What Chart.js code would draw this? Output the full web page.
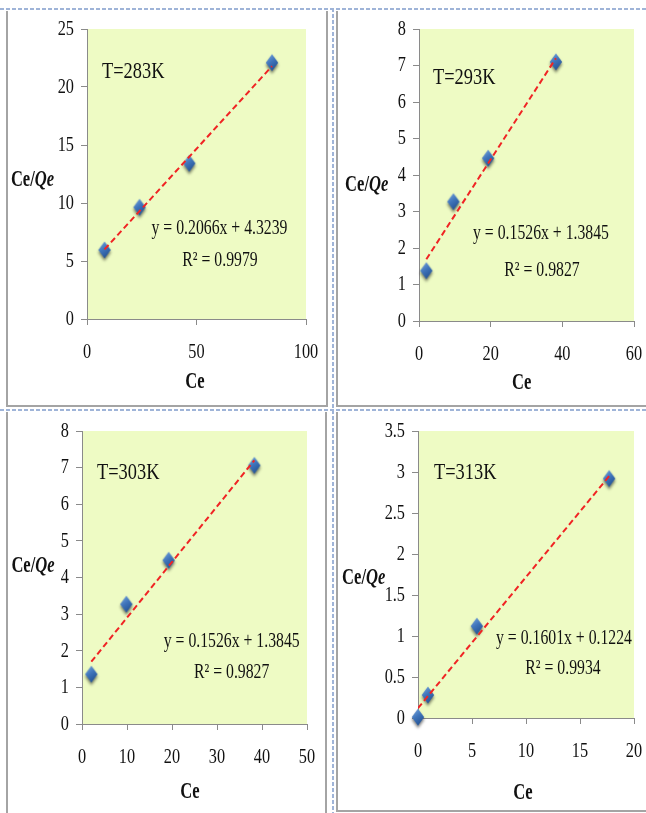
<!DOCTYPE html>
<html>
<head>
<meta charset="utf-8">
<script src="https://cdn.jsdelivr.net/npm/chart.js@4.4.1/dist/chart.umd.min.js"></script>
<style>
  html, body { margin: 0; padding: 0; background: #fff; }
  body { width: 646px; height: 813px; position: relative; overflow: hidden; }
  canvas { position: absolute; }
  .ln { position: absolute; }
  .sol { background: #a4a4a4; }
  .dh { height: 2px; background: repeating-linear-gradient(90deg, #9fb4d8 0 4px, transparent 4px 6px); }
  .dv { width: 2px; background: repeating-linear-gradient(180deg, #9fb4d8 0 4px, transparent 4px 6px); }
</style>
</head>
<body>
<!-- molduras -->
<div class="ln dh" style="left:0;top:8px;width:646px"></div>
<div class="ln dh" style="left:0;top:409px;width:646px"></div>
<div class="ln dv" style="left:332px;top:8px;height:805px"></div>
<div class="ln sol" style="left:6px;top:11px;width:2px;height:396px"></div>
<div class="ln sol" style="left:326px;top:11px;width:2px;height:396px"></div>
<div class="ln sol" style="left:6px;top:405px;width:322px;height:2px"></div>
<div class="ln sol" style="left:336px;top:11px;width:2px;height:396px"></div>
<div class="ln sol" style="left:336px;top:405px;width:310px;height:2px"></div>
<div class="ln sol" style="left:6px;top:412px;width:2px;height:401px"></div>
<div class="ln sol" style="left:325px;top:412px;width:2px;height:401px"></div>
<div class="ln sol" style="left:336px;top:412px;width:2px;height:400px"></div>
<div class="ln sol" style="left:336px;top:810px;width:310px;height:2px"></div>

<canvas id="g283"></canvas>
<canvas id="g293"></canvas>
<canvas id="g303"></canvas>
<canvas id="g313"></canvas>

<script>
// dados
const ce283 = [8, 24, 46.7, 84.5];
const cq283 = [5.95, 9.63, 13.42, 22.1];
const tend283x = [8, 84.5];
const tend283y = [6.0, 21.8];
const xTicks283 = [0, 50, 100];
const yTicks283 = [0, 5, 10, 15, 20, 25];
const eq283 = ['y = 0.2066x + 4.3239', 'R² = 0.9979'];

const ce293 = [2.05, 9.6, 19.3, 38.2];
const cq293 = [1.38, 3.27, 4.46, 7.1];
const tend293x = [2.05, 38.2];
const tend293y = [1.69, 7.2];
const xTicks293 = [0, 20, 40, 60];
const yTicks293 = [0, 1, 2, 3, 4, 5, 6, 7, 8];
const eq293 = ['y = 0.1526x + 1.3845', 'R² = 0.9827'];

const ce303 = [2.07, 9.85, 19.26, 38.3];
const cq303 = [1.36, 3.27, 4.47, 7.06];
const tend303x = [2.07, 38.3];
const tend303y = [1.7, 7.2];
const xTicks303 = [0, 10, 20, 30, 40, 50];
const yTicks303 = [0, 1, 2, 3, 4, 5, 6, 7, 8];
const eq303 = ['y = 0.1526x + 1.3845', 'R² = 0.9827'];

const ce313 = [0, 0.92, 5.45, 17.7];
const cq313 = [0.01, 0.28, 1.12, 2.92];
const tend313x = [0, 17.7];
const tend313y = [0.12, 2.95];
const xTicks313 = [0, 5, 10, 15, 20];
const yTicks313 = [0, 0.5, 1, 1.5, 2, 2.5, 3, 3.5];
const eq313 = ['y = 0.1601x + 0.1224', 'R² = 0.9934'];

const SERIF = '"Liberation Serif", "Times New Roman", serif';
const COR_EIXO = '#8a8a8a';

// losango azul com sombra
function criarMarcador() {
  const c = document.createElement('canvas');
  c.width = 20; c.height = 28;
  const g = c.getContext('2d');
  const cx = 10, cy = 14, hw = 6.2, hh = 8.5;
  g.shadowColor = 'rgba(0,0,0,0.5)';
  g.shadowBlur = 3;
  g.shadowOffsetY = 2.5;
  const grad = g.createLinearGradient(cx - hw, cy - hh, cx + hw, cy + hh);
  grad.addColorStop(0, '#7aa9e0');
  grad.addColorStop(0.45, '#3f74ba');
  grad.addColorStop(1, '#1a4686');
  g.fillStyle = grad;
  g.beginPath();
  g.moveTo(cx, cy - hh);
  g.lineTo(cx + hw, cy);
  g.lineTo(cx, cy + hh);
  g.lineTo(cx - hw, cy);
  g.closePath();
  g.fill();
  return c;
}
const marcador = criarMarcador();

function texto(ctx, str, x, y, fonte, sx, alinh) {
  ctx.save();
  ctx.translate(x, y);
  ctx.scale(sx, 1);
  ctx.font = fonte;
  ctx.fillStyle = '#111';
  ctx.textAlign = alinh;
  ctx.textBaseline = 'middle';
  ctx.fillText(str, 0, 0);
  ctx.restore();
}

const fundoPlot = {
  id: 'fundoPlot',
  beforeDraw(chart) {
    const a = chart.chartArea, ctx = chart.ctx;
    ctx.save();
    ctx.fillStyle = '#eefbc4';
    ctx.fillRect(a.left, a.top, a.right - a.left, a.bottom - a.top);
    ctx.restore();
  }
};

const textos = {
  id: 'textos',
  afterDraw(chart, args, o) {
    const ctx = chart.ctx, a = chart.chartArea;
    const sx = chart.scales.x, sy = chart.scales.y;
    const fTick = '22px ' + SERIF;
    sx.ticks.forEach((t, i) => texto(ctx, String(t.value), sx.getPixelForTick(i), a.bottom + 33, fTick, 0.74, 'center'));
    sy.ticks.forEach((t, i) => texto(ctx, String(t.value), a.left - 13, sy.getPixelForTick(i), fTick, 0.74, 'right'));

    const ox = o.origem[0], oy = o.origem[1];
    texto(ctx, o.rotulo, o.pos.rotulo[0] - ox, o.pos.rotulo[1] - oy, '23px ' + SERIF, 0.8, 'left');
    texto(ctx, o.eq[0], o.pos.eq[0] - ox, o.pos.eq[1] - oy, '21px ' + SERIF, 0.75, 'center');
    texto(ctx, o.eq[1], o.pos.r2[0] - ox, o.pos.r2[1] - oy, '21px ' + SERIF, 0.75, 'center');

    // titulo do eixo y: "Ce/" negrito + "Qe" negrito italico
    const f1 = 'bold 23px ' + SERIF, f2 = 'italic bold 23px ' + SERIF, k = 0.72;
    ctx.save();
    ctx.font = f1; const w1 = ctx.measureText('Ce/').width * k;
    ctx.font = f2; const w2 = ctx.measureText('Qe').width * k;
    ctx.restore();
    const x0 = o.pos.ty[0] - ox - (w1 + w2) / 2;
    texto(ctx, 'Ce/', x0, o.pos.ty[1] - oy, f1, k, 'left');
    texto(ctx, 'Qe', x0 + w1, o.pos.ty[1] - oy, f2, k, 'left');
    texto(ctx, 'Ce', o.pos.tx[0] - ox, o.pos.tx[1] - oy, f1, k, 'center');
  }
};

function eixo(ticks, lado) {
  return {
    type: 'linear',
    position: lado,
    min: ticks[0],
    max: ticks[ticks.length - 1],
    ticks: { display: false },
    grid: { display: true, drawOnChartArea: false, drawTicks: true, tickLength: 6, color: COR_EIXO },
    border: { display: true, color: COR_EIXO, width: 1 },
    afterBuildTicks: (s) => { s.ticks = ticks.map(v => ({ value: v })); },
    afterFit: (s) => { if (lado === 'left') s.width = 8; else s.height = 8; }
  };
}

function criarGrafico(p) {
  const cv = document.getElementById(p.id);
  const [bl, bt, br, bb] = p.caixa;
  const [al, at, ar, ab] = p.area;
  cv.width = br - bl; cv.height = bb - bt;
  cv.style.left = bl + 'px'; cv.style.top = bt + 'px';
  new Chart(cv, {
    type: 'scatter',
    data: {
      datasets: [
        {
          data: p.tx.map((x, i) => ({ x, y: p.ty[i] })),
          showLine: true,
          borderColor: '#f02424',
          borderWidth: 2,
          borderDash: [6, 3.5],
          pointRadius: 0,
          order: 0
        },
        {
          data: p.ce.map((x, i) => ({ x, y: p.cq[i] })),
          pointStyle: marcador,
          pointRadius: 7,
          clip: false,
          order: 1
        }
      ]
    },
    options: {
      responsive: false,
      animation: false,
      events: [],
      layout: {
        padding: { left: al - bl - 8, top: at - bt, right: br - ar, bottom: bb - ab - 8 }
      },
      scales: { x: eixo(p.xt, 'bottom'), y: eixo(p.yt, 'left') },
      plugins: {
        legend: { display: false },
        tooltip: { enabled: false },
        textos: { origem: [bl, bt], rotulo: p.rotulo, eq: p.eq, pos: p.pos }
      }
    },
    plugins: [fundoPlot, textos]
  });
}

const paineis = [
  { id: 'g283', caixa: [0, 0, 330, 409], area: [87, 29, 306, 319],
    ce: ce283, cq: cq283, tx: tend283x, ty: tend283y, xt: xTicks283, yt: yTicks283, rotulo: 'T=283K', eq: eq283,
    pos: { rotulo: [102, 72], eq: [219.5, 228], r2: [220, 260], ty: [32.5, 180], tx: [195, 382] } },
  { id: 'g293', caixa: [330, 0, 646, 409], area: [419, 29, 634, 321],
    ce: ce293, cq: cq293, tx: tend293x, ty: tend293y, xt: xTicks293, yt: yTicks293, rotulo: 'T=293K', eq: eq293,
    pos: { rotulo: [433, 78], eq: [541, 233], r2: [542, 270], ty: [366.7, 185], tx: [521.7, 383] } },
  { id: 'g303', caixa: [0, 409, 330, 813], area: [82, 431, 307, 724],
    ce: ce303, cq: cq303, tx: tend303x, ty: tend303y, xt: xTicks303, yt: yTicks303, rotulo: 'T=303K', eq: eq303,
    pos: { rotulo: [97, 473], eq: [231.7, 641.7], r2: [231.7, 672.7], ty: [33, 565.7], tx: [190, 791.7] } },
  { id: 'g313', caixa: [330, 409, 646, 813], area: [418, 431, 634, 718],
    ce: ce313, cq: cq313, tx: tend313x, ty: tend313y, xt: xTicks313, yt: yTicks313, rotulo: 'T=313K', eq: eq313,
    pos: { rotulo: [434, 473], eq: [564, 638], r2: [563, 668], ty: [363.7, 578], tx: [523, 793] } }
];

paineis.forEach(criarGrafico);
</script>
</body>
</html>
